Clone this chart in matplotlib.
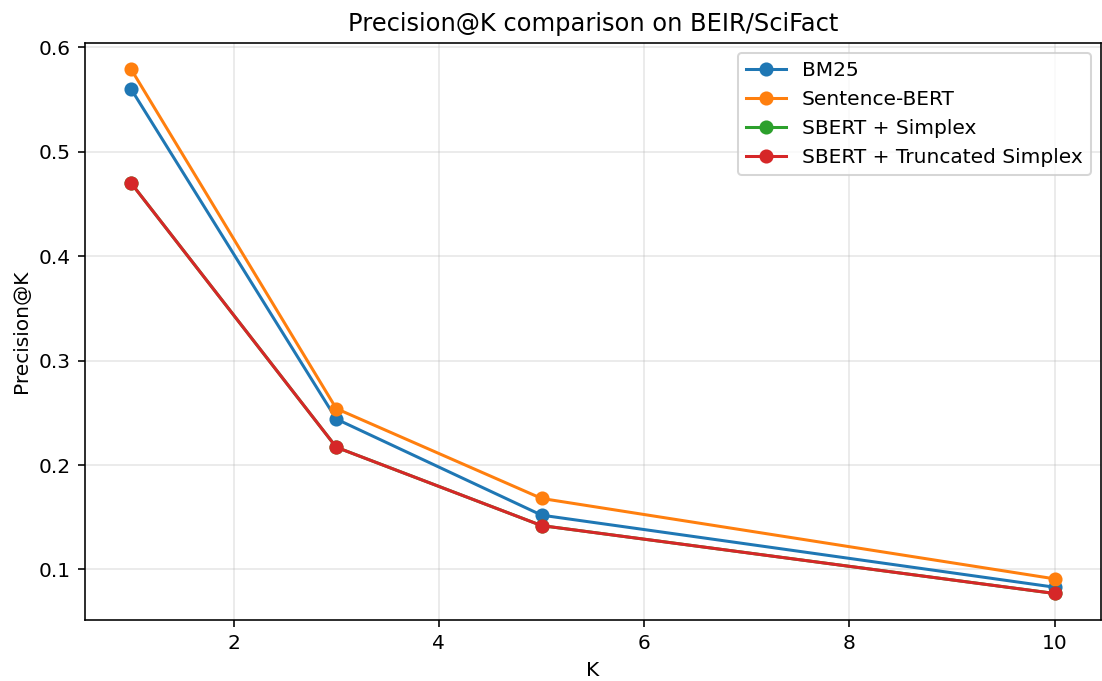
import matplotlib
matplotlib.use("Agg")
import matplotlib.pyplot as plt

# K values and precision scores
ks = [1, 3, 5, 10]
bm25 = [0.560, 0.244, 0.152, 0.083]
sbert = [0.579, 0.254, 0.168, 0.091]
sbert_simplex = [0.470, 0.217, 0.142, 0.077]
sbert_trunc = [0.470, 0.217, 0.142, 0.077]

series = [
    ("BM25", bm25),
    ("Sentence-BERT", sbert),
    ("SBERT + Simplex", sbert_simplex),
    ("SBERT + Truncated Simplex", sbert_trunc),
]

# reference looks like default sizes rendered at ~145 dpi
fig, ax = plt.subplots(figsize=(1102 / 145, 681 / 145), dpi=145)
fig.subplots_adjust(left=0.077, right=0.999, top=0.937, bottom=0.09)

for name, vals in series:
    ax.plot(ks, vals, marker='o', label=name)

ax.set_title("Precision@K comparison on BEIR/SciFact")
ax.set_xlabel("K")
ax.set_ylabel("Precision@K")
ax.grid(True, alpha=0.3)
ax.legend(loc="upper right")

fig.savefig("out.png", dpi=145)
